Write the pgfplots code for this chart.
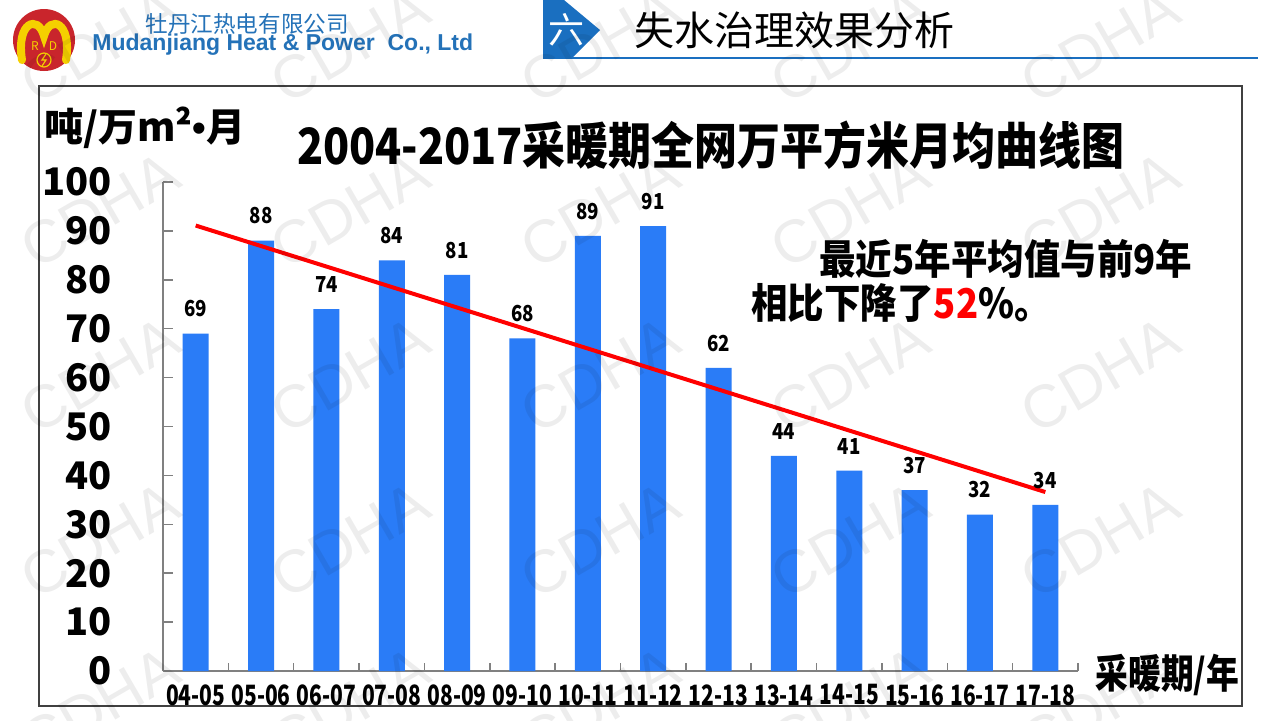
\documentclass[border=0pt]{standalone}
\usepackage{pgfplots}
\pgfplotsset{compat=1.18}
\usepackage{pgfplotstable}
\usepackage{fontspec}
\setmainfont{Noto Sans CJK SC}
\newfontfamily\cjk{Noto Sans CJK SC}
\newfontfamily\cjknarrow{Noto Sans CJK SC}[FakeStretch=0.75]
\newfontfamily\cjklab{Noto Sans CJK SC}[FakeStretch=0.85]
\newfontfamily\cjktitle{Noto Sans CJK SC}[FakeStretch=0.86]
\newfontfamily\cjkann{Noto Sans CJK SC}[FakeStretch=0.89]
\newfontfamily\cjkxl{Noto Sans CJK SC}[FakeStretch=0.82]
\newfontfamily\arial{Liberation Sans}
\definecolor{barblue}{HTML}{2A7CF7}
\definecolor{hdrblue}{HTML}{1A6FC0}
\definecolor{coblue}{HTML}{2472B8}
\definecolor{axgray}{HTML}{808080}
\definecolor{logored}{HTML}{C9252C}
\definecolor{logoyel}{HTML}{F5D000}

\pgfplotstableread{
x val
0 69
1 88
2 74
3 84
4 81
5 68
6 89
7 91
8 62
9 44
10 41
11 37
12 32
13 34
}\datatable

\begin{document}
\begin{tikzpicture}[x=0.5pt,y=-0.5pt]
\useasboundingbox (0,0) rectangle (1280,720);
\clip (0,0) rectangle (1280,720);
\fill[white] (0,0) rectangle (1280,720);
% logo
\fill[logored] (44,40) circle (31);
\draw[logoyel, line width=4pt, line cap=round] (22,60) .. controls (16,22) and (38,14) .. (44,36) .. controls (50,14) and (72,22) .. (66,60);
\node[logoyel] at (35,46) {\fontsize{6pt}{6pt}\selectfont R};
\node[logoyel] at (53,46) {\fontsize{6pt}{6pt}\selectfont D};
\draw[logoyel, line width=0.6pt] (44,60) circle (7);
\draw[logoyel, line width=0.6pt] (46,54) -- (42,60) -- (46,60) -- (42,66);
% company
\node[coblue, anchor=west, inner sep=0pt] at (145,24) {\cjk\fontsize{11.3pt}{11.3pt}\selectfont 牡丹江热电有限公司};
\node[coblue, anchor=west, inner sep=0pt] at (92,45) {\arial\bfseries\fontsize{11.5pt}{11.5pt}\selectfont Mudanjiang Heat \& Power\ \ Co., Ltd};
% section header
\fill[hdrblue] (543,0) -- (564,0) -- (600,30) -- (572,58) -- (543,58) -- cycle;
\node[white, inner sep=0pt] at (566,30) {\cjk\fontsize{18pt}{18pt}\selectfont 六};
\draw[hdrblue, line width=1pt] (543,58) -- (1258,58);
\node[anchor=west, inner sep=0pt] at (634,30) {\cjk\fontsize{20pt}{20pt}\selectfont 失水治理效果分析};
% frame
\draw[black!75, line width=0.75pt] (39,86) rectangle (1242,706);

\begin{axis}[
  at={(81.5pt,-335.5pt)}, anchor=south west,
  scale only axis, width=457.5pt, height=244.5pt,
  xmin=-0.5, xmax=13.5, ymin=0, ymax=100,
  axis x line=bottom, axis y line=left,
  axis line style={-, axgray, line width=0.75pt},
  tick align=inside,
  ytick={0,10,...,100},
  yticklabels={0,10,20,30,40,50,60,70,80,90,100},
  yticklabel style={font=\cjk\bfseries\fontsize{19pt}{19pt}\selectfont, anchor=east, inner sep=0pt, xshift=-25.5pt},
  xtick={0,...,13},
  xticklabels={04-05,05-06,06-07,07-08,08-09,09-10,10-11,11-12,12-13,13-14,14-15,15-16,16-17,17-18},
  xticklabel style={font=\cjknarrow\bfseries\fontsize{14pt}{14pt}\selectfont, anchor=north, inner sep=0pt, yshift=-6.5pt},
  minor xtick={-0.5,0.5,...,13.5},
  major tick length=5pt, minor tick length=4pt,
  major x tick style={draw=none},
  tick style={axgray, line width=0.75pt},
  clip=false,
]
\addplot[ybar, bar width=13pt, fill=barblue, draw=none,
  point meta=explicit symbolic,
  nodes near coords,
  nodes near coords style={font=\cjklab\bfseries\fontsize{11pt}{11pt}\selectfont, text=black, anchor=south, inner sep=0pt, yshift=8pt}]
  table[x=x, y=val, meta=val]{\datatable};
\addplot[red, line width=2pt, no markers] coordinates {(0,91.1) (13,36.6)};
\end{axis}

% texts
\node[anchor=west, inner sep=0pt] at (44,128) {\cjk\bfseries\fontsize{19.5pt}{19.5pt}\selectfont 吨/万m²{\arial\bfseries •}月};
\node[inner sep=0pt] at (711,145) {\cjktitle\bfseries\fontsize{25pt}{25pt}\selectfont 2004-2017采暖期全网万平方米月均曲线图};
\node[anchor=west, inner sep=0pt] at (1095,675) {\cjkxl\bfseries\fontsize{20pt}{20pt}\selectfont 采暖期/年};
\node[anchor=west, inner sep=0pt] at (819,259) {\cjkann\bfseries\fontsize{20.5pt}{20.5pt}\selectfont 最近5年平均值与前9年};
\node[anchor=west, inner sep=0pt] at (751,303) {\cjkann\bfseries\fontsize{20.5pt}{20.5pt}\selectfont 相比下降了\textcolor{red}{52}\%。};

% watermark
\foreach \xx in {100,350,600,850,1100} {
  \foreach \yy in {45,210,375,540,705} {
    \node[rotate=30, text=black, opacity=0.07] at (\xx,\yy) {\arial\fontsize{30pt}{30pt}\selectfont CDHA};
  }
}
\end{tikzpicture}
\end{document}
